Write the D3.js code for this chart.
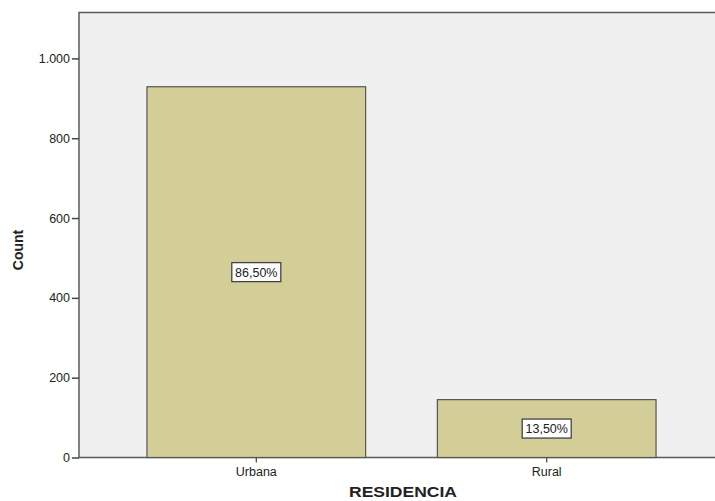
<!DOCTYPE html>
<html>
<head>
<meta charset="utf-8">
<script src="https://cdn.jsdelivr.net/npm/d3@7"></script>
<style>
  html, body { margin: 0; padding: 0; background: #ffffff; }
  svg { display: block; }
  text { font-family: "Liberation Sans", Arial, sans-serif; fill: #222; }
</style>
</head>
<body>
<svg id="chart" width="715" height="501"></svg>
<script>
// Residence counts
const categories = ["Urbana", "Rural"];
const counts = [929, 145];
const percentLabels = ["86,50%", "13,50%"];
const yTicks = [0, 200, 400, 600, 800, 1000];

const svg = d3.select("#chart");
const margin = { left: 79, top: 12.5, right: -9, bottom: 43.5 };
const W = 715, H = 501;
const x0 = margin.left, x1 = W - margin.right;
const y0 = H - margin.bottom, y1 = margin.top;

const x = d3.scaleBand().domain(categories).range([x0, x1])
  .paddingInner(0.247).paddingOuter(0.234);
const y = d3.scaleLinear().domain([0, 1115]).range([y0, y1]);

// plot background
svg.append("rect")
  .attr("x", x0).attr("y", y1)
  .attr("width", x1 - x0).attr("height", y0 - y1)
  .attr("fill", "#f0f0f0")
  .attr("stroke", "#5a5a5a").attr("stroke-width", 1.5);

// bars
svg.selectAll("rect.bar").data(categories).enter().append("rect")
  .attr("class", "bar")
  .attr("x", d => x(d))
  .attr("y", (d, i) => y(counts[i]))
  .attr("width", x.bandwidth())
  .attr("height", (d, i) => y0 - y(counts[i]))
  .attr("fill", "#d3ce97")
  .attr("stroke", "#555").attr("stroke-width", 1.2);

// percentage labels in boxes
const lbl = svg.selectAll("g.lbl").data(categories).enter().append("g")
  .attr("class", "lbl")
  .attr("transform", (d, i) => `translate(${x(d) + x.bandwidth() / 2},${(y(counts[i]) + y0) / 2})`);
lbl.append("rect")
  .attr("x", -24.5).attr("y", -9.5).attr("width", 49).attr("height", 19)
  .attr("fill", "#ffffff").attr("stroke", "#444").attr("stroke-width", 1.3);
lbl.append("text")
  .attr("text-anchor", "middle").attr("dy", "0.36em")
  .attr("font-size", 12.5)
  .text((d, i) => percentLabels[i]);

// y axis
const fmt = v => d3.format(",")(v).replace(/,/g, ".");
const yAxis = svg.append("g").attr("transform", `translate(${x0},0)`)
  .call(d3.axisLeft(y).tickValues(yTicks).tickFormat(fmt).tickSize(7).tickPadding(2));
yAxis.select(".domain").remove();
yAxis.selectAll("line").attr("stroke", "#444").attr("stroke-width", 1.5);
yAxis.selectAll("text").attr("font-size", 12.5).attr("fill", "#333")
  .attr("font-family", "Liberation Sans, Arial, sans-serif");

// x axis
const xAxis = svg.append("g").attr("transform", `translate(0,${y0})`)
  .call(d3.axisBottom(x).tickSize(5).tickPadding(5));
xAxis.select(".domain").remove();
xAxis.selectAll("line").attr("stroke", "#444").attr("stroke-width", 1.2);
xAxis.selectAll("text").attr("font-size", 12.5).attr("fill", "#333")
  .attr("font-family", "Liberation Sans, Arial, sans-serif");

// axis titles
svg.append("text")
  .attr("x", 403).attr("y", 497)
  .attr("text-anchor", "middle")
  .attr("font-size", 15).attr("font-weight", "bold")
  .attr("textLength", 108).attr("lengthAdjust", "spacingAndGlyphs")
  .text("RESIDENCIA");
svg.append("text")
  .attr("transform", `translate(23,${(y0 + y1) / 2 + 15}) rotate(-90)`)
  .attr("text-anchor", "middle")
  .attr("font-size", 14).attr("font-weight", "bold")
  .text("Count");
</script>
</body>
</html>
